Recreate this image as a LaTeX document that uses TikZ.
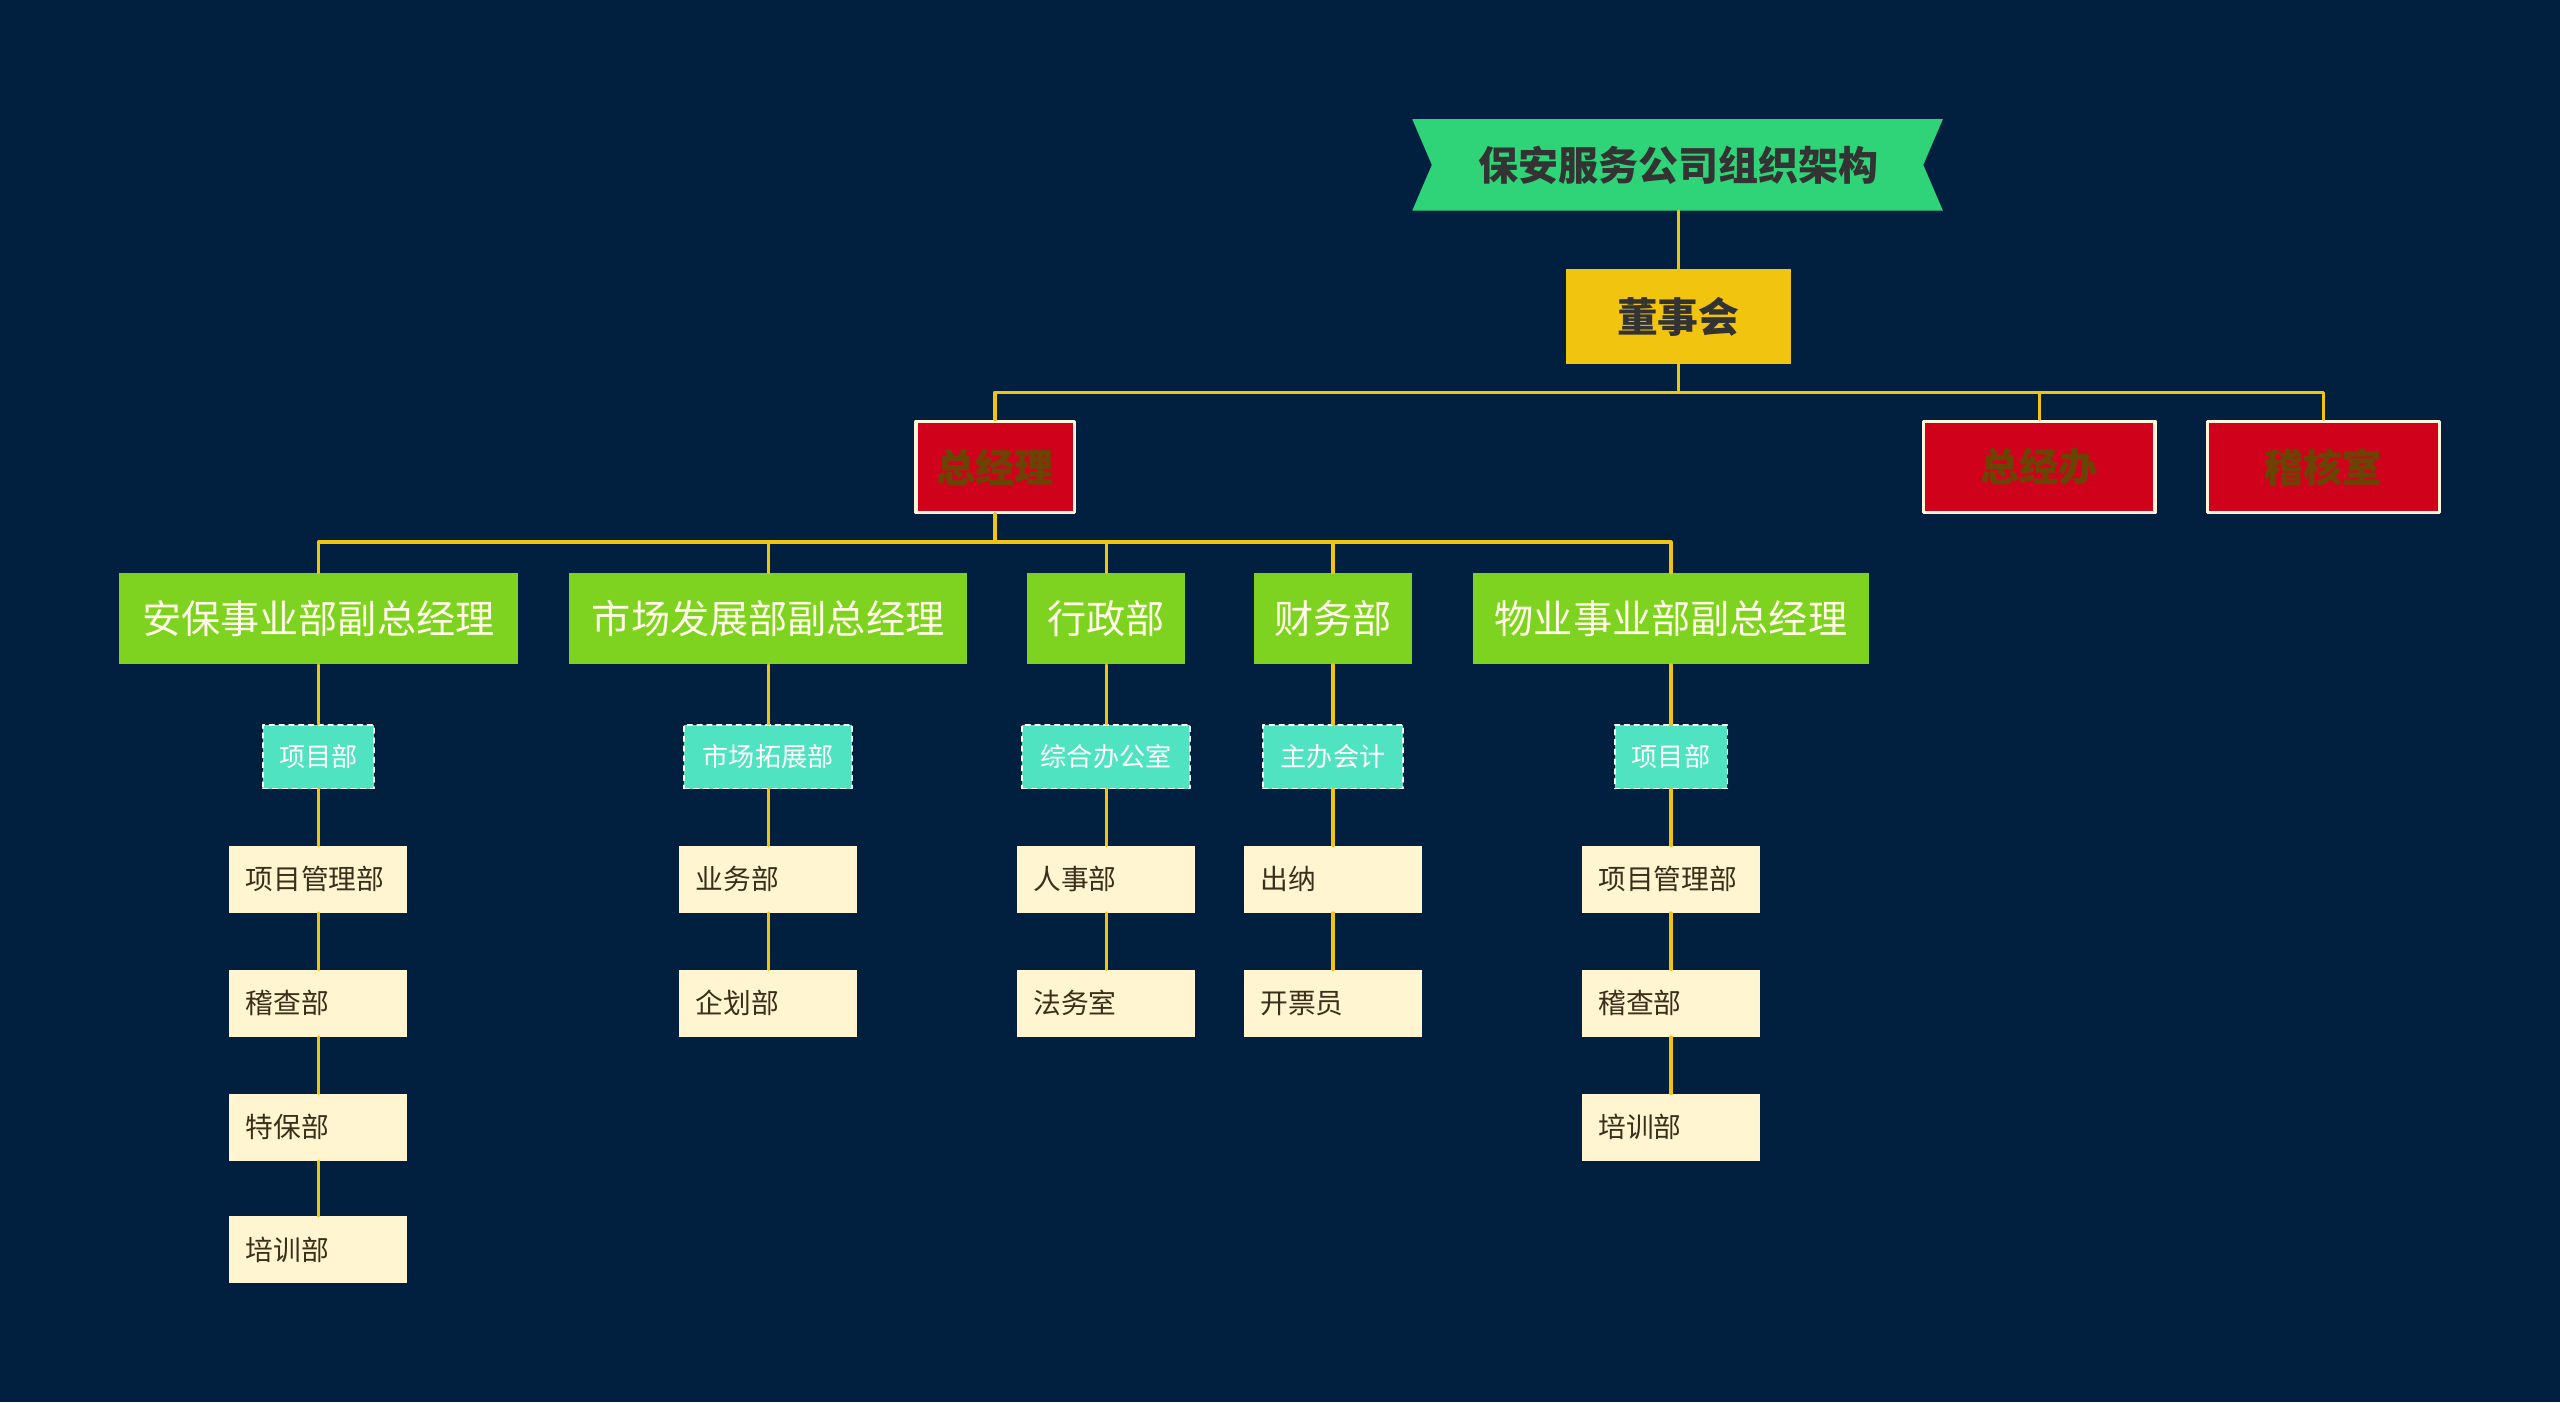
\documentclass[tikz,border=0pt]{standalone}
\usepackage{fontspec}
\setmainfont{Noto Sans CJK SC}
\definecolor{bg}{HTML}{012040}
\definecolor{bannergreen}{HTML}{2FD478}
\definecolor{titletext}{HTML}{333333}
\definecolor{boardyellow}{HTML}{F1C40F}
\definecolor{officered}{HTML}{D0021B}
\definecolor{officetext}{HTML}{6A4404}
\definecolor{officeframe}{HTML}{FFF5DA}
\definecolor{vicegreen}{HTML}{7ED321}
\definecolor{vicetext}{HTML}{FFFBE6}
\definecolor{unitteal}{HTML}{50E3C2}
\definecolor{deptcream}{HTML}{FFF5D1}
\definecolor{depttext}{HTML}{3B2E1A}
\definecolor{linkyellow}{HTML}{F1C40F}
\begin{document}
\begin{tikzpicture}[x=1pt,y=-1pt,line join=round,line cap=round]
\tikzset{
 banner/.style={text=titletext,font=\fontsize{24.5}{30}\selectfont\bfseries,minimum width=325pt,minimum height=56pt},
 board/.style={fill=boardyellow,text=titletext,font=\fontsize{25}{30}\selectfont\bfseries,minimum width=138pt,minimum height=58pt},
 office/.style={fill=officered,draw=officeframe,line width=2pt,text=officetext,font=\fontsize{24}{28}\selectfont\bfseries,minimum height=56pt},
 vice/.style={fill=vicegreen,text=vicetext,font=\fontsize{24}{28}\selectfont,minimum height=56pt},
 unit/.style={fill=unitteal,draw=white,dashed,line width=1pt,text=white,font=\fontsize{16}{20}\selectfont,minimum height=39pt},
 dept/.style={fill=deptcream,text=depttext,font=\fontsize{17}{20}\selectfont,text width=89pt,inner xsep=10pt,align=left,minimum height=41pt},
 link/.style={draw=linkyellow,line width=2pt}
}
\fill[bg] (0,0) rectangle (1568,859);
\useasboundingbox (0,0) rectangle (1568,859);

% title and top level
\fill[bannergreen] (865,73) -- (1190,73) -- (1178,101) -- (1190,129) -- (865,129) -- (877,101) -- cycle;
\path (1028,101) node[banner](title){保安服务公司组织架构}
 (1028,194) node[board](dsh){董事会};
\path (609.5,286) node[office,minimum width=97pt](zjl){总经理}
 (1249,286) node[office,minimum width=142pt](zjb){总经办}
 (1423,286) node[office,minimum width=142pt](jhs){稽核室};

% deputies
\path (195,379) node[vice,minimum width=244pt](v1){安保事业部副总经理}
 (470.5,379) node[vice,minimum width=244pt](v2){市场发展部副总经理}
 (677.5,379) node[vice,minimum width=97pt](v3){行政部}
 (816.5,379) node[vice,minimum width=97pt](v4){财务部}
 (1023.5,379) node[vice,minimum width=243pt](v5){物业事业部副总经理};

% units
\path (195,463.5) node[unit,minimum width=68pt](u1){项目部}
 (470.5,463.5) node[unit,minimum width=103pt](u2){市场拓展部}
 (677.5,463.5) node[unit,minimum width=103pt](u3){综合办公室}
 (816.5,463.5) node[unit,minimum width=86pt](u4){主办会计}
 (1023.5,463.5) node[unit,minimum width=69pt](u5){项目部};

% departments
\path (195,538.5) node[dept](xm1){项目管理部}
 (195,614.5) node[dept](jc1){稽查部}
 (195,690.5) node[dept](tb1){特保部}
 (195,765.5) node[dept](px1){培训部};
\path (470.5,538.5) node[dept](yw2){业务部}
 (470.5,614.5) node[dept](qh2){企划部};
\path (677.5,538.5) node[dept](rs3){人事部}
 (677.5,614.5) node[dept](fw3){法务室};
\path (816.5,538.5) node[dept](cn4){出纳}
 (816.5,614.5) node[dept](kp4){开票员};
\path (1023.5,538.5) node[dept](xm5){项目管理部}
 (1023.5,614.5) node[dept](jc5){稽查部}
 (1023.5,690.5) node[dept](px5){培训部};

% connectors
\foreach \y in {zjl,zjb,jhs}{
 \draw[link] (dsh.south) -- ++(0,17) -| (\y.north);}
\foreach \y in {v1,v2,v3,v4,v5}{
 \draw[link] (zjl.south) -- ++(0,17) -| (\y.north);}
\foreach \x/\y in {title/dsh,v1/u1,u1/xm1,xm1/jc1,jc1/tb1,tb1/px1,v2/u2,u2/yw2,yw2/qh2,v3/u3,u3/rs3,rs3/fw3,v4/u4,u4/cn4,cn4/kp4,v5/u5,u5/xm5,xm5/jc5,jc5/px5}{
 \draw[link] (\x.south) -- (\y.north);}
\end{tikzpicture}
\end{document}
